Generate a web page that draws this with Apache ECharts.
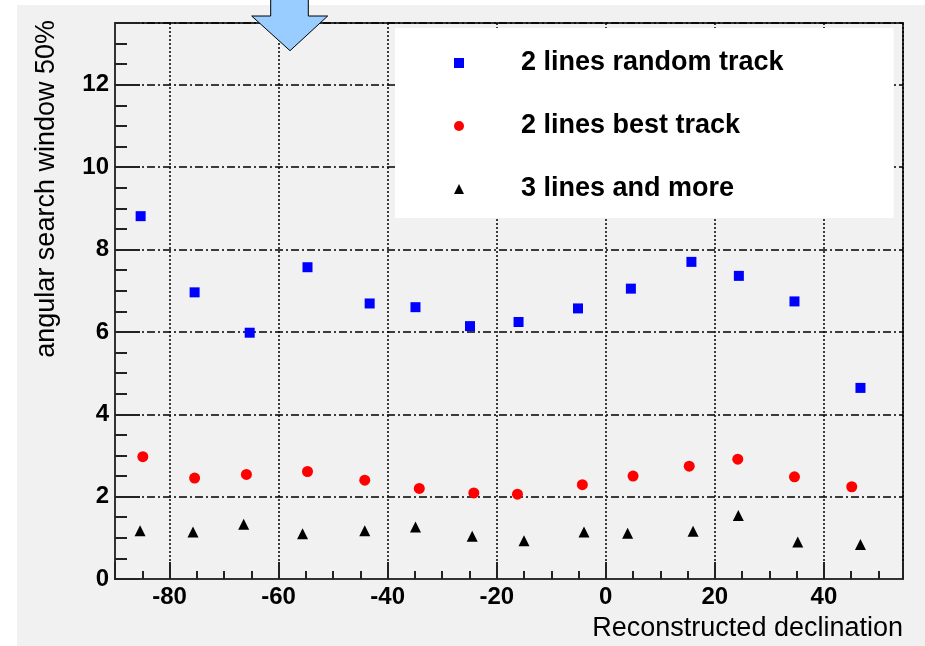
<!DOCTYPE html>
<html>
<head>
<meta charset="utf-8">
<script src="https://cdn.jsdelivr.net/npm/echarts@6/dist/echarts.min.js"></script>
<style>
html,body{margin:0;padding:0;background:#fff;}
#chart{width:925px;height:646px;}
</style>
</head>
<body>
<div id="chart"></div>
<script>
// Data
const seriesNames = ['2 lines random track', '2 lines best track', '3 lines and more'];
const randomX = [-85.3, -75.4, -65.3, -54.7, -43.3, -34.9, -24.9, -16.0, -5.1, 4.6, 15.7, 24.4, 34.6, 46.7];
const randomY = [8.81, 6.96, 5.98, 7.57, 6.69, 6.60, 6.14, 6.24, 6.57, 7.05, 7.70, 7.36, 6.74, 4.64];
const bestX = [-84.9, -75.4, -65.9, -54.7, -44.2, -34.2, -24.2, -16.2, -4.3, 5.0, 15.3, 24.2, 34.6, 45.1];
const bestY = [2.97, 2.45, 2.54, 2.61, 2.40, 2.20, 2.09, 2.06, 2.29, 2.50, 2.74, 2.91, 2.48, 2.24];
const moreX = [-85.4, -75.7, -66.4, -55.6, -44.2, -34.9, -24.5, -15.0, -4.0, 4.0, 16.0, 24.3, 35.2, 46.7];
const moreY = [1.17, 1.14, 1.33, 1.10, 1.17, 1.26, 1.04, 0.93, 1.14, 1.11, 1.16, 1.54, 0.90, 0.84];
const xTitle = 'Reconstructed declination';
const yTitle = 'angular search window 50%';

function zip(xs, ys) { return xs.map((x, i) => [x, ys[i]]); }

const chart = echarts.init(document.getElementById('chart'));
const FONT = '"Liberation Sans", Arial, Helvetica, sans-serif';
const dotted = { color: '#000', width: 1.5, type: [2, 2] };
const dashDot = { color: '#000', width: 1.5, type: [8, 3, 2, 3] };

chart.setOption({
  backgroundColor: '#ffffff',
  animation: false,
  textStyle: { fontFamily: FONT },
  graphic: [
    { type: 'rect', z: -10, shape: { x: 17, y: 5, width: 908, height: 641 }, style: { fill: '#f1f1f1' } },
    { type: 'polygon', z: 100, shape: { points: [[270.7, -2], [308.3, -2], [308.3, 16], [327.7, 16], [290, 50.7], [251.7, 16], [270.7, 16]] },
      style: { fill: '#99ccff', stroke: '#000', lineWidth: 1 } }
  ],
  grid: { left: 115, top: 23, right: 22, bottom: 67, outerBoundsMode: 'none', containLabel: false, show: true, borderColor: '#333', borderWidth: 2, backgroundColor: 'transparent' },
  legend: {
    orient: 'vertical',
    left: 395, top: 28,
    backgroundColor: '#ffffff',
    padding: [20, 110, 14, 59],
    itemGap: 33,
    itemWidth: 10, itemHeight: 10,
    textStyle: { fontFamily: FONT, fontSize: 27, fontWeight: 'bold', color: '#000', lineHeight: 30, padding: [0, 0, 0, 52] },
    data: seriesNames
  },
  xAxis: {
    type: 'value', min: -90, max: 54.5, splitNumber: 7,
    name: xTitle, nameLocation: 'end', nameGap: 0, nameMoveOverlap: false,
    nameTextStyle: { fontFamily: FONT, fontSize: 27, color: '#000', align: 'right', verticalAlign: 'top', padding: [36, 0, 0, 0] },
    axisLine: { show: true, onZero: false, lineStyle: { color: '#333', width: 2 } },
    axisTick: { show: true, inside: true, length: 17, lineStyle: { color: '#222', width: 2 } },
    minorTick: { show: true, splitNumber: 4, length: 8, lineStyle: { color: '#222', width: 2 } },
    axisLabel: { fontFamily: FONT, fontSize: 24, fontWeight: 'bold', color: '#000', margin: 6, showMinLabel: false, showMaxLabel: false },
    splitLine: { show: true, lineStyle: dotted }
  },
  yAxis: {
    type: 'value', min: 0, max: 13.5, interval: 2,
    name: yTitle, nameLocation: 'end', nameGap: 3, nameRotate: 90, nameMoveOverlap: false,
    nameTextStyle: { fontFamily: FONT, fontSize: 27, color: '#000', align: 'right', verticalAlign: 'bottom', padding: [0, 0, 55, 0] },
    axisLine: { show: true, onZero: false, lineStyle: { color: '#333', width: 2 } },
    axisTick: { show: true, inside: true, length: 25, lineStyle: { color: '#222', width: 2 } },
    minorTick: { show: true, splitNumber: 4, length: 12, lineStyle: { color: '#222', width: 2 } },
    axisLabel: { fontFamily: FONT, fontSize: 24, fontWeight: 'bold', color: '#000', margin: 6, showMaxLabel: false },
    splitLine: { show: true, lineStyle: dashDot }
  },
  series: [
    { name: seriesNames[0], type: 'scatter', symbol: 'rect', symbolSize: 10, itemStyle: { color: '#0000ff', opacity: 1 }, data: zip(randomX, randomY) },
    { name: seriesNames[1], type: 'scatter', symbol: 'circle', symbolSize: 11, itemStyle: { color: '#ff0000', opacity: 1 }, data: zip(bestX, bestY) },
    { name: seriesNames[2], type: 'scatter', symbol: 'triangle', symbolSize: 11, itemStyle: { color: '#000000', opacity: 1 }, data: zip(moreX, moreY) }
  ]
});
</script>
</body>
</html>
